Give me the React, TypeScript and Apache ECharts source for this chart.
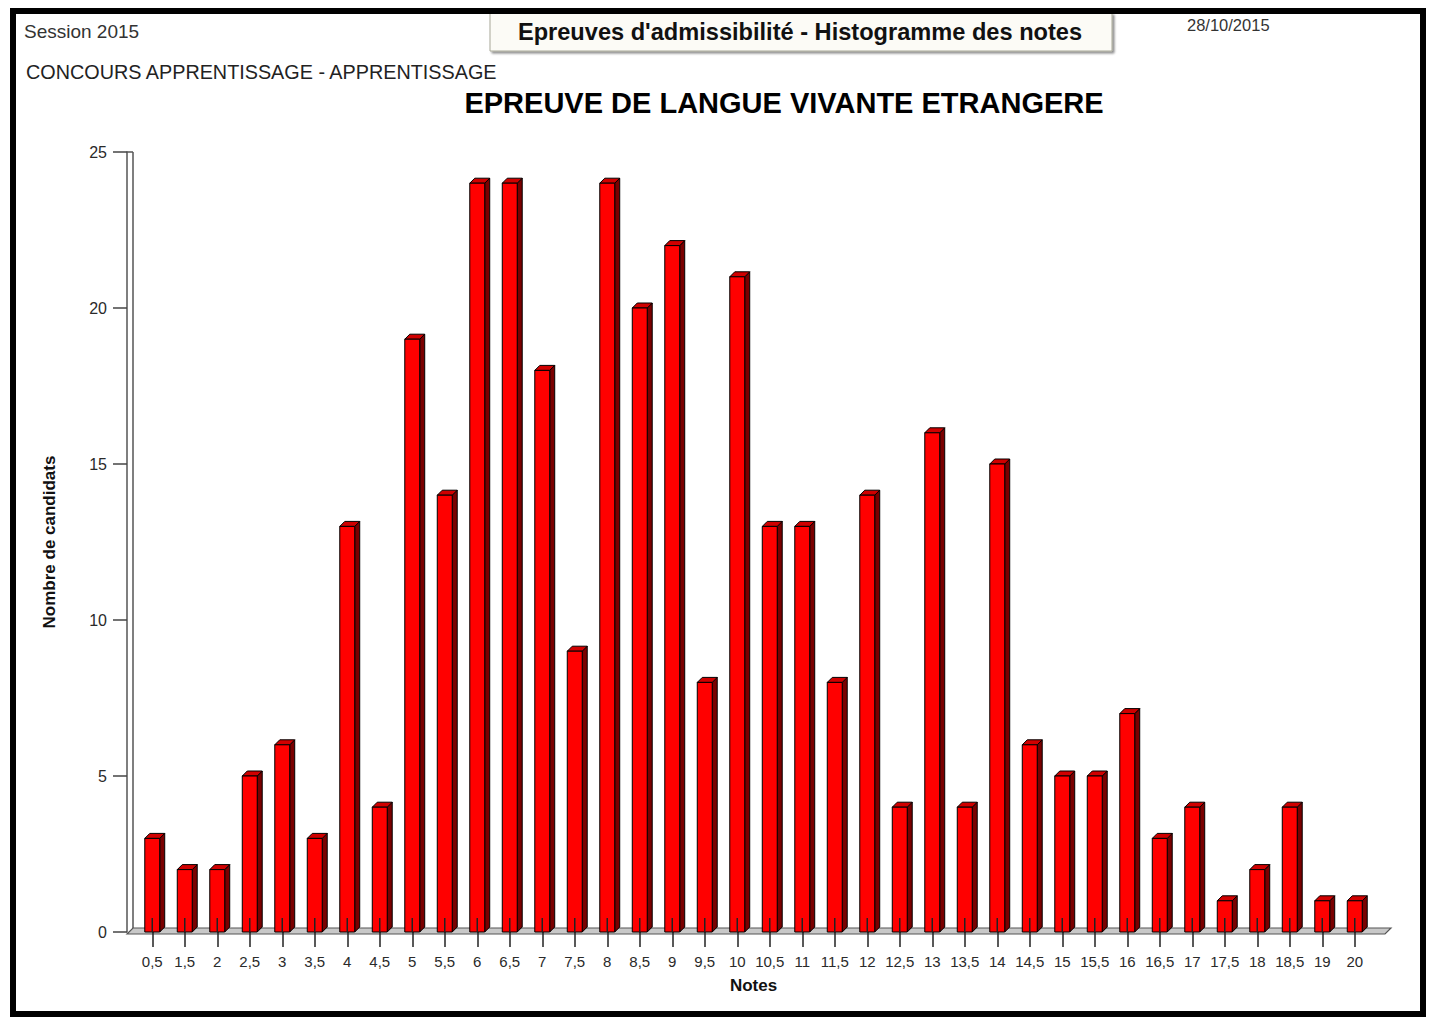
import React, { useEffect, useRef } from "react";
import * as echarts from "echarts";

const notes = ["0,5","1,5","2","2,5","3","3,5","4","4,5","5","5,5","6","6,5","7","7,5","8","8,5","9","9,5","10","10,5","11","11,5","12","12,5","13","13,5","14","14,5","15","15,5","16","16,5","17","17,5","18","18,5","19","20"];
const candidats = [3,2,2,5,6,3,13,4,19,14,24,24,18,9,24,20,22,8,21,13,13,8,14,4,16,4,15,6,5,5,7,3,4,1,2,4,1,1];
const yTicks = [0, 5, 10, 15, 20, 25];

const FONT = "'Liberation Sans', Arial, sans-serif";

export default function App() {
  const ref = useRef<HTMLDivElement>(null);
  useEffect(() => {
    if (!ref.current) return;
    const chart = echarts.init(ref.current, null, { renderer: "svg" });
    const data = candidats.map((v, i) => [i, v]);
    chart.setOption({
      animation: false,
      backgroundColor: "#ffffff",
      grid: { left: 136, top: 152, width: 1235, height: 780, containLabel: false },
      xAxis: {
        type: "category",
        data: notes,
        name: "Notes",
        nameLocation: "middle",
        nameGap: 45,
        nameTextStyle: { fontFamily: FONT, fontWeight: "bold", fontSize: 17, color: "#111" },
        axisLine: { show: false },
        axisTick: { show: true, alignWithLabel: true, length: 15, lineStyle: { color: "#222", width: 1.5 } },
        axisLabel: { margin: 22, fontFamily: FONT, fontSize: 15, color: "#2a2a2a", interval: 0 },
        splitLine: { show: false },
      },
      yAxis: {
        type: "value",
        min: yTicks[0],
        max: yTicks[yTicks.length - 1],
        interval: 5,
        offset: 9,
        name: "Nombre de candidats",
        nameLocation: "middle",
        nameGap: 69,
        nameRotate: 90,
        nameTextStyle: { fontFamily: FONT, fontWeight: "bold", fontSize: 17, color: "#111" },
        axisLine: { show: true, lineStyle: { color: "#555", width: 1.5 } },
        axisTick: { show: true, length: 14, lineStyle: { color: "#444", width: 1.5 } },
        axisLabel: { margin: 20, fontFamily: FONT, fontSize: 16, color: "#2a2a2a" },
        splitLine: { show: false },
      },
      graphic: [
        { type: "rect", shape: { x: 13, y: 11, width: 1410, height: 1003 }, style: { fill: "none", stroke: "#000", lineWidth: 6 }, z: 100 },
        { type: "text", x: 24, y: 31, style: { text: "Session 2015", font: `19px ${FONT}`, fill: "#333", verticalAlign: "middle" } },
        {
          type: "rect", shape: { x: 490, y: 13, width: 622, height: 38 },
          style: { fill: "#fcfbf6", stroke: "#a8a898", lineWidth: 1, shadowColor: "rgba(0,0,0,0.45)", shadowOffsetX: 2, shadowOffsetY: 2, shadowBlur: 2 },
        },
        { type: "text", x: 800, y: 32, style: { text: "Epreuves d'admissibilité - Histogramme des notes", font: `bold 23.6px ${FONT}`, fill: "#111", align: "center", verticalAlign: "middle" } },
        { type: "text", x: 1187, y: 25, style: { text: "28/10/2015", font: `16.5px ${FONT}`, fill: "#333", verticalAlign: "middle" } },
        { type: "text", x: 26, y: 72, style: { text: "CONCOURS APPRENTISSAGE - APPRENTISSAGE", font: `19.8px ${FONT}`, fill: "#222", verticalAlign: "middle" } },
        { type: "text", x: 784, y: 103, style: { text: "EPREUVE DE LANGUE VIVANTE ETRANGERE", font: `bold 29px ${FONT}`, fill: "#000", align: "center", verticalAlign: "middle" } },
        { type: "line", shape: { x1: 133, y1: 152, x2: 133, y2: 929 }, style: { stroke: "#555", lineWidth: 1.5 } },
        { type: "line", shape: { x1: 127, y1: 152, x2: 133, y2: 152 }, style: { stroke: "#555", lineWidth: 1.5 } },
        {
          type: "polygon",
          shape: { points: [[133, 928], [1391, 928], [1385, 934], [127, 934]] },
          style: { fill: "#c8c8c8", stroke: "#555", lineWidth: 1.2 },
        },
      ],
      series: [
        {
          type: "custom",
          data,
          encode: { x: 0, y: 1 },
          z: 10,
          renderItem: (params: any, api: any) => {
            const idx = api.value(0);
            const v = api.value(1);
            const top = api.coord([idx, v]);
            const base = api.coord([idx, 0]);
            const band = api.size([1, 0])[0];
            const w = band * 0.46;
            const d = 5;
            const x0 = top[0] - w / 2;
            const x1 = top[0] + w / 2;
            const yt = top[1];
            const yb = base[1];
            return {
              type: "group",
              children: [
                { type: "polygon", shape: { points: [[x1, yb], [x1 + d, yb - d], [x1 + d, yt - d], [x1, yt]] }, style: { fill: "#7a0000", stroke: "#000", lineWidth: 1 } },
                { type: "polygon", shape: { points: [[x0, yt], [x0 + d, yt - d], [x1 + d, yt - d], [x1, yt]] }, style: { fill: "#d00000", stroke: "#000", lineWidth: 1 } },
                { type: "rect", shape: { x: x0, y: yt, width: w, height: yb - yt }, style: { fill: "#ff0000", stroke: "#000", lineWidth: 1 } },
                { type: "line", shape: { x1: top[0], y1: yb - 14, x2: top[0], y2: yb }, style: { stroke: "#222", lineWidth: 1.5 } },
              ],
            };
          },
        },
      ],
    });
    return () => chart.dispose();
  }, []);
  return <div ref={ref} style={{ position: "absolute", left: 0, top: 0, width: 1434, height: 1017 }} />;
}
